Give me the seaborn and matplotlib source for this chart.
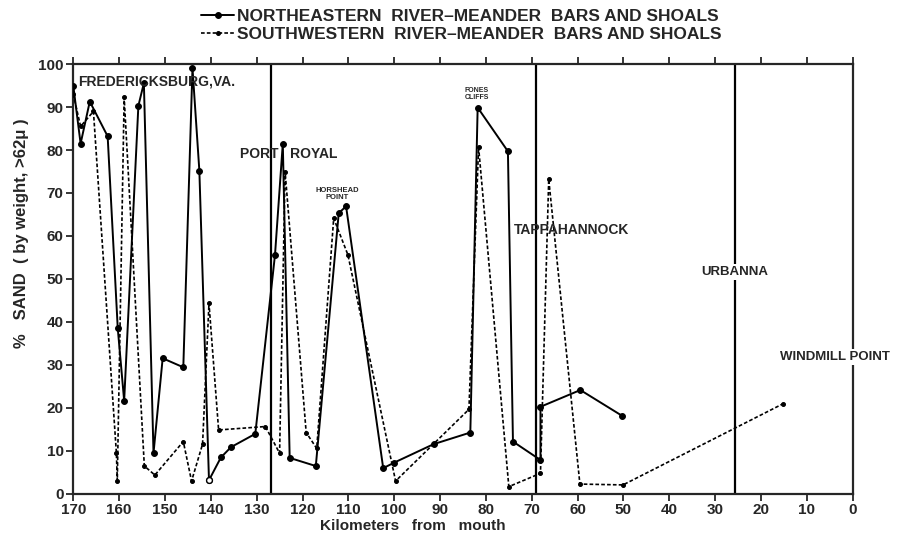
import numpy as np
import pandas as pd
import matplotlib
matplotlib.use('Agg')
import matplotlib.pyplot as plt
import seaborn as sns

# northeastern bars and shoals (solid line)
ne_km = [170, 168.4, 166.4, 162.5, 160.3, 158.9, 155.8, 154.6, 152.5, 150.5, 146.0, 144.0,
         142.5, 140.4, 137.8, 135.6, 130.3, 126.0, 124.3, 122.8, 117.1, 112.1, 110.5, 102.4,
         100.0, 91.4, 83.4, 81.8, 75.2, 74.1, 68.1, 68.1, 59.4, 50.3]
ne_sand = [95, 81.5, 91.3, 83.2, 38.5, 21.6, 90.3, 95.6, 9.4, 31.5, 29.4, 99.1,
           75.2, 3.1, 8.4, 10.8, 13.9, 55.6, 81.5, 8.3, 6.4, 65.3, 66.9, 5.9,
           7.2, 11.5, 14.2, 89.9, 79.7, 12.1, 7.8, 20.2, 24.1, 18.1]
ne_open = [13]  # sample drawn as open circle

# southwestern bars and shoals (dotted line)
sw_km = [170, 168.4, 165.6, 160.6, 160.4, 158.9, 154.5, 152.2, 146.0, 144.2, 141.8, 140.4,
         138.3, 128.1, 125.0, 123.8, 119.2, 116.9, 113.2, 110.1, 99.7, 83.7, 81.6, 75.0,
         68.1, 66.3, 59.5, 50.1, 15.2]
sw_sand = [93, 85.5, 89, 9.5, 3.0, 92.3, 6.4, 4.3, 12.1, 2.9, 11.5, 44.3,
           14.8, 15.6, 9.4, 75, 14.2, 10.5, 64.1, 55.6, 2.9, 19.6, 80.7, 1.6,
           4.7, 73.2, 2.2, 2.0, 20.9]

# vertical marker lines at Port Royal, Tappahannock, Urbanna
town_km = [126.9, 69.1, 25.7]

ne_df = pd.DataFrame({'km': ne_km, 'sand': ne_sand})
sw_df = pd.DataFrame({'km': sw_km, 'sand': sw_sand})

sns.set_style("ticks")
plt.rcParams['font.family'] = ['Liberation Sans', 'DejaVu Sans']
plt.rcParams['font.weight'] = 'bold'

fig = plt.figure(figsize=(8.99, 5.38), dpi=100)
ax = fig.add_axes([0.0815, 0.0827, 0.867, 0.798])

#vertical lines at towns
for k in town_km:
    ax.axvline(k, color='black', lw=1.6, zorder=1)

sns.lineplot(data=ne_df, x='km', y='sand', sort=False, estimator=None, color='black',
             lw=1.4, marker='o', markersize=4.2, markeredgecolor='black', ax=ax, zorder=3,
             label='NORTHEASTERN  RIVER–MEANDER  BARS AND SHOALS')
sns.lineplot(data=sw_df, x='km', y='sand', sort=False, estimator=None, color='black',
             lw=1.2, linestyle=(0, (2.2, 1.3)), marker='o', markersize=2.8,
             markeredgecolor='black', ax=ax, zorder=3,
             label='SOUTHWESTERN  RIVER–MEANDER  BARS AND SHOALS')
ax.plot([ne_km[i] for i in ne_open], [ne_sand[i] for i in ne_open], 'o', mfc='white',
        mec='black', ms=4.2, zorder=4)

ax.set_xlim(170, 0)
ax.set_ylim(0, 100)
ax.set_xticks(np.arange(170, -1, -10))
ax.set_yticks(np.arange(0, 101, 10))
ax.tick_params(axis='x', top=True, direction='out', length=5, width=1.3, labelsize=11, pad=2)
ax.tick_params(axis='y', direction='out', length=5, width=1.3, labelsize=11, pad=2)
for s in ax.spines.values():
    s.set_linewidth(1.6)

ax.set_xlabel('Kilometers   from   mouth', fontsize=11, fontweight='bold')
ax.xaxis.set_label_coords(0.436, -0.06)
ax.set_ylabel('%   SAND  ( by weight, >62μ )', fontsize=12, fontweight='bold')
ax.yaxis.set_label_coords(-0.057, 0.607)

# place labels
ax.text(169, 96, 'FREDERICKSBURG,VA.', fontsize=10, fontweight='bold', va='center', zorder=5)
ax.text(133.6, 79, 'PORT   ROYAL', fontsize=10, fontweight='bold', va='center', zorder=5)
ax.text(112.5, 69.8, 'HORSHEAD\nPOINT', fontsize=5.5, fontweight='bold', ha='center',
        va='center', linespacing=1.1, zorder=5)
ax.text(82, 93, 'FONES\nCLIFFS', fontsize=5, fontweight='bold', ha='center', va='center',
        linespacing=1.1, zorder=5)
ax.text(74, 61.4, 'TAPPAHANNOCK', fontsize=10, fontweight='bold', va='center', zorder=5)
ax.text(25.7, 51.6, 'URBANNA', fontsize=9.5, fontweight='bold', ha='center', va='center',
        bbox=dict(facecolor='white', edgecolor='none', pad=1.5), zorder=5)
ax.text(15.9, 31.8, 'WINDMILL POINT', fontsize=9.5, fontweight='bold', va='center',
        bbox=dict(facecolor='white', edgecolor='none', pad=1.5), zorder=5, clip_on=False)

leg = ax.legend(loc='lower left', bbox_to_anchor=(0.155, 1.035), frameon=False,
                handlelength=1.9, handletextpad=0.15, labelspacing=0.2, borderaxespad=0,
                prop={'weight': 'bold', 'size': 12.5})

fig.savefig('out.png', dpi=100)
